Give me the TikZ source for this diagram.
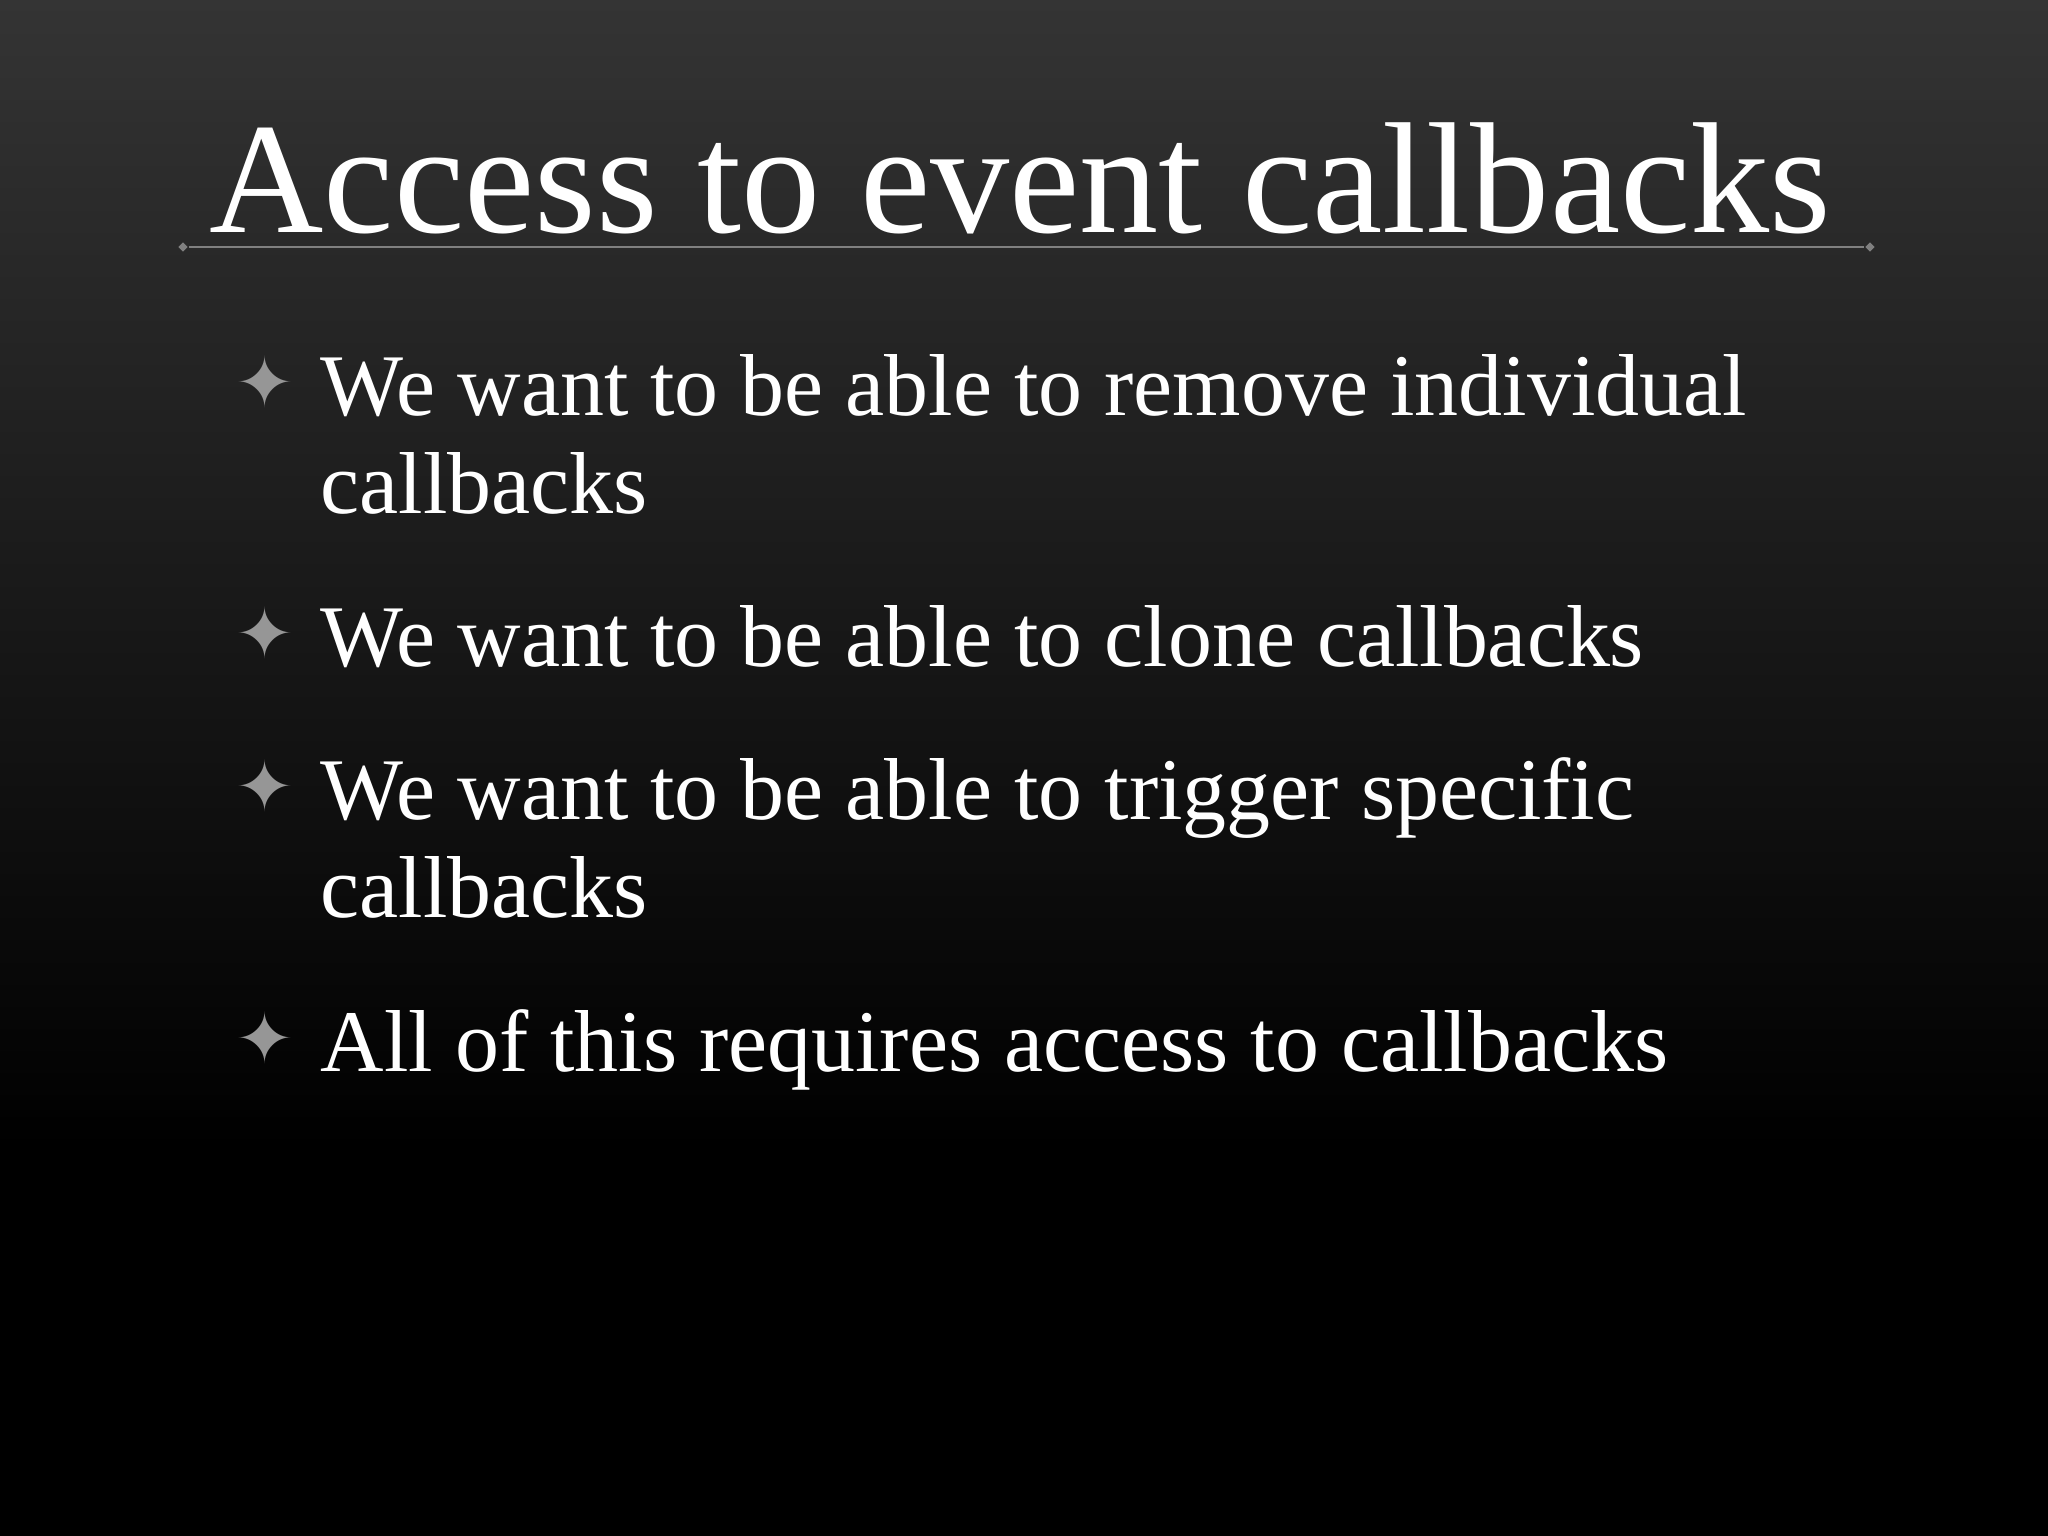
\documentclass[tikz,border=0pt]{standalone}
\usepackage{fontspec}
\setmainfont{Liberation Serif}
\newfontfamily\symf{DejaVu Sans}
\usetikzlibrary{shapes.geometric}
\definecolor{topc}{RGB}{52,52,52}
\definecolor{bul}{RGB}{150,150,150}
\tikzset{
  title/.style={anchor=base west,text=white,inner sep=0,font=\fontsize{45}{45}\selectfont},
  item/.style={anchor=base west,text=white,inner sep=0,font=\fontsize{25}{25}\selectfont},
  star/.style={anchor=base,text=bul,inner sep=0,font=\symf\fontsize{20}{20}\selectfont},
  dia/.style={diamond,fill=gray,inner sep=0,minimum size=0.1cm}
}
\begin{document}
\begin{tikzpicture}[x=0.01cm,y=-0.01cm]
\useasboundingbox (0,0) rectangle (2048,1536);
\shade[top color=topc,bottom color=black] (0,0) rectangle (2048,1150);
\fill[black] (0,1149) rectangle (2048,1536);
\node[title] (t) at (209,232) {Access to event callbacks};
\node[dia] (l) at (183,247) {};
\node[dia] (r) at (1870,247) {};
\draw[gray,line width=0.6pt] (l) -- (r);
\foreach \y in {415,666,819,1071} \node[star] at (265,\y-8) {✦};
\node[item] (a1) at (320,415) {We want to be able to remove individual};
\node[item] (a2) at (320,513) {callbacks};
\node[item] (b) at (320,666) {We want to be able to clone callbacks};
\node[item] (c1) at (320,819) {We want to be able to trigger specific};
\node[item] (c2) at (320,917) {callbacks};
\node[item] (d) at (320,1071) {All of this requires access to callbacks};
\end{tikzpicture}
\end{document}
